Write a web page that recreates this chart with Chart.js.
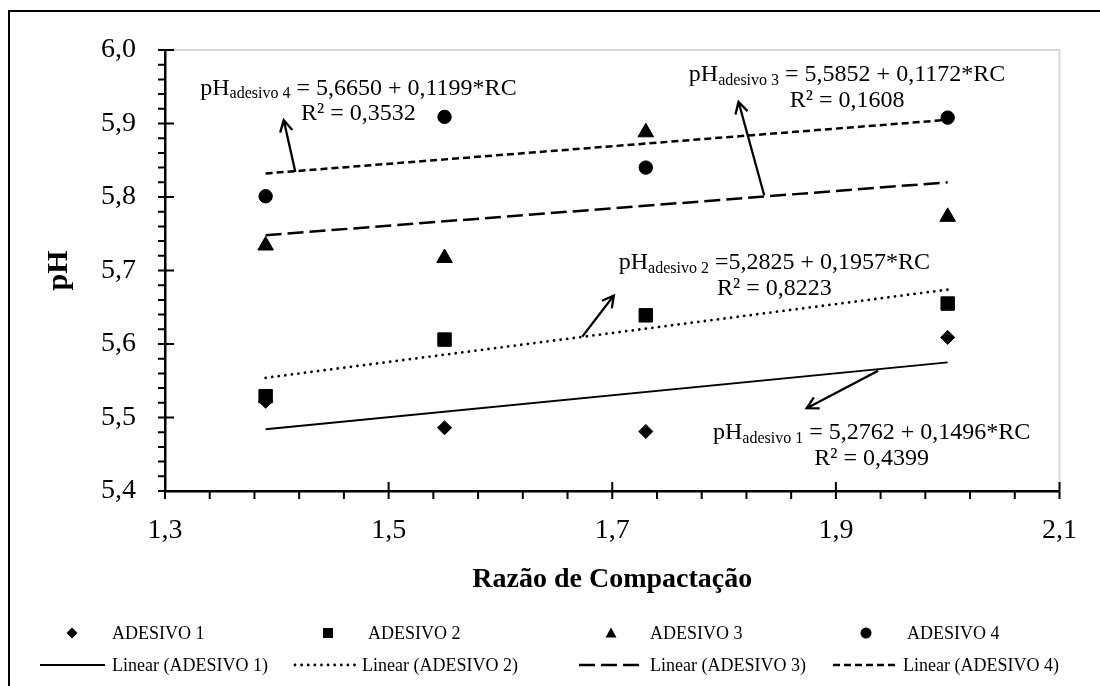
<!DOCTYPE html>
<html>
<head>
<meta charset="utf-8">
<script src="https://cdn.jsdelivr.net/npm/chart.js@4.4.0/dist/chart.umd.min.js"></script>
<style>
html, body { margin:0; padding:0; background:#fff; }
#wrap { width:1100px; height:686px; position:relative; }
</style>
</head>
<body>
<div id="wrap"><canvas id="stage" width="1100" height="686"></canvas></div>
<script>
// <pH x Razão de Compactação>

// razão de compactação (eixo x)
var rc = [1.39, 1.55, 1.73, 2.00];

// pH medido de cada adesivo
var adesivo1 = [5.522, 5.486, 5.481, 5.609];
var adesivo2 = [5.529, 5.606, 5.639, 5.655];
var adesivo3 = [5.734, 5.717, 5.888, 5.773];
var adesivo4 = [5.801, 5.909, 5.840, 5.908];

// linhas de tendência (extremos)
var rcLinha = [1.39, 2.00];
var linear1 = [5.484, 5.575];
var linear2 = [5.554, 5.674];
var linear3 = [5.748, 5.820];
var linear4 = [5.832, 5.905];

// rótulos dos eixos
var xTicks = [1.3, 1.5, 1.7, 1.9, 2.1];
var yTicks = [5.4, 5.5, 5.6, 5.7, 5.8, 5.9, 6.0];

var nomes = ["ADESIVO 1", "ADESIVO 2", "ADESIVO 3", "ADESIVO 4"];

function pares(xs, ys){
   var out = [];
   for (var i = 0; i < xs.length; i++){
      out.push({x: xs[i], y: ys[i]});
   }
   return out;
}

function virgula(v){
   return v.toFixed(1).replace('.', ',');
}

// equações e setas (posição em unidades do gráfico)
var notas = [
   {sub:"adesivo 4", eq:" = 5,6650 + 0,1199*RC", r2:"R² = 0,3532", cx:1.473, y1:5.948, y2:5.913, de:[1.4166, 5.834], ate:[1.4062, 5.9045]},
   {sub:"adesivo 3", eq:" = 5,5852 + 0,1172*RC", r2:"R² = 0,1608", cx:1.910, y1:5.966, y2:5.931, de:[1.8359, 5.8023], ate:[1.8129, 5.9295]},
   {sub:"adesivo 2", eq:" =5,2825 + 0,1957*RC", r2:"R² = 0,8223", cx:1.845, y1:5.711, y2:5.675, de:[1.6732, 5.610], ate:[1.7014, 5.6659]},
   {sub:"adesivo 1", eq:" = 5,2762 + 0,1496*RC", r2:"R² = 0,4399", cx:1.932, y1:5.4795, y2:5.4446, de:[1.9378, 5.5636], ate:[1.8739, 5.5127]}
];

var serif = "'Liberation Serif', 'Times New Roman', serif";

function seta(ctx, x1, y1, x2, y2){
   var ang = Math.atan2(y2 - y1, x2 - x1);
   var L = 13;
   ctx.beginPath();
   ctx.moveTo(x1, y1);
   ctx.lineTo(x2, y2);
   ctx.moveTo(x2 - L * Math.cos(ang - 0.5), y2 - L * Math.sin(ang - 0.5));
   ctx.lineTo(x2, y2);
   ctx.lineTo(x2 - L * Math.cos(ang + 0.5), y2 - L * Math.sin(ang + 0.5));
   ctx.stroke();
}

function marcador(ctx, tipo, x, y, r){
   ctx.beginPath();
   if (tipo === 'rectRot'){
      ctx.moveTo(x - r, y); ctx.lineTo(x, y - r); ctx.lineTo(x + r, y); ctx.lineTo(x, y + r);
   } else if (tipo === 'rect'){
      ctx.rect(x - r, y - r, 2 * r, 2 * r);
   } else if (tipo === 'triangle'){
      ctx.moveTo(x, y - r); ctx.lineTo(x + r, y + r * 0.8); ctx.lineTo(x - r, y + r * 0.8);
   } else {
      ctx.arc(x, y, r, 0, Math.PI * 2);
   }
   ctx.closePath();
   ctx.fill();
}

// moldura, marcas dos eixos, equações, legenda
var desenhos = {
   id: 'desenhos',
   beforeDraw: function(chart){
      var ctx = chart.ctx;
      var a = chart.chartArea;
      ctx.save();
      ctx.fillStyle = '#fff';
      ctx.fillRect(0, 0, chart.width, chart.height);
      ctx.strokeStyle = '#000';
      ctx.lineWidth = 2;
      ctx.beginPath();
      ctx.moveTo(9, chart.height);
      ctx.lineTo(9, 11);
      ctx.lineTo(chart.width, 11);
      ctx.stroke();
      ctx.strokeStyle = '#d9d9d9';
      ctx.beginPath();
      ctx.moveTo(a.left, a.top);
      ctx.lineTo(a.right, a.top);
      ctx.lineTo(a.right, a.bottom);
      ctx.stroke();
      ctx.restore();
   },
   afterDraw: function(chart){
      var ctx = chart.ctx;
      var a = chart.chartArea;
      var sx = chart.scales.x, sy = chart.scales.y;
      var i, j, p, v;
      ctx.save();
      ctx.strokeStyle = '#000';
      ctx.lineWidth = 2;
      ctx.beginPath();
      // eixo y
      for (i = 0; i < yTicks.length; i++){
         p = sy.getPixelForValue(yTicks[i]);
         ctx.moveTo(a.left - 7, p); ctx.lineTo(a.left + 9, p);
         if (i < yTicks.length - 1){
            for (j = 1; j < 5; j++){
               v = yTicks[i] + (yTicks[i + 1] - yTicks[i]) * j / 5;
               p = sy.getPixelForValue(v);
               ctx.moveTo(a.left - 7, p); ctx.lineTo(a.left, p);
            }
         }
      }
      // eixo x
      for (i = 0; i < xTicks.length; i++){
         p = sx.getPixelForValue(xTicks[i]);
         ctx.moveTo(p, a.bottom + 8); ctx.lineTo(p, a.bottom - (i === 0 ? 0 : 9));
         if (i < xTicks.length - 1){
            for (j = 1; j < 5; j++){
               v = xTicks[i] + (xTicks[i + 1] - xTicks[i]) * j / 5;
               p = sx.getPixelForValue(v);
               ctx.moveTo(p, a.bottom + 8); ctx.lineTo(p, a.bottom);
            }
         }
      }
      ctx.stroke();

      // equações
      ctx.fillStyle = '#000';
      ctx.textBaseline = 'middle';
      ctx.textAlign = 'left';
      ctx.lineWidth = 2.3;
      notas.forEach(function(n){
         var big = '24px ' + serif, small = '16px ' + serif;
         ctx.font = big;
         var w1 = ctx.measureText('pH').width;
         var w3 = ctx.measureText(n.eq).width;
         ctx.font = small;
         var w2 = ctx.measureText(n.sub).width;
         var cx = sx.getPixelForValue(n.cx);
         var y1 = sy.getPixelForValue(n.y1);
         var x0 = cx - (w1 + w2 + w3) / 2;
         ctx.font = big;
         ctx.fillText('pH', x0, y1);
         ctx.font = small;
         ctx.fillText(n.sub, x0 + w1, y1 + 6);
         ctx.font = big;
         ctx.fillText(n.eq, x0 + w1 + w2, y1);
         ctx.textAlign = 'center';
         ctx.fillText(n.r2, cx, sy.getPixelForValue(n.y2));
         ctx.textAlign = 'left';
         seta(ctx, sx.getPixelForValue(n.de[0]), sy.getPixelForValue(n.de[1]),
                   sx.getPixelForValue(n.ate[0]), sy.getPixelForValue(n.ate[1]));
      });

      // legenda
      var estilos = ['rectRot', 'rect', 'triangle', 'circle'];
      var tam = [5.5, 5, 5.5, 5.5];
      var colX = [72, 328, 611, 866];
      var txtX = [112, 368, 650, 907];
      var linX = [[40, 105], [295, 358], [579, 645], [833, 899]];
      var linTxt = [112, 362, 650, 903];
      var ds = chart.data.datasets;
      ctx.font = '18px ' + serif;
      for (i = 0; i < 4; i++){
         marcador(ctx, estilos[i], colX[i], 633, tam[i]);
         ctx.fillText(nomes[i], txtX[i], 634);
         var d = ds[4 + i];
         ctx.save();
         ctx.lineWidth = d.borderWidth;
         ctx.setLineDash(d.borderDash || []);
         ctx.lineCap = d.borderCapStyle || 'butt';
         ctx.beginPath();
         ctx.moveTo(linX[i][0], 665);
         ctx.lineTo(linX[i][1], 665);
         ctx.stroke();
         ctx.restore();
         ctx.fillText('Linear (' + nomes[i] + ')', linTxt[i], 666);
      }
      ctx.restore();
   }
};

var pontos = {
   borderColor: '#000', backgroundColor: '#000', showLine: false, borderWidth: 1
};

var mydata = {
   datasets: [
      Object.assign({label: nomes[0], data: pares(rc, adesivo1), pointStyle: 'rectRot', pointRadius: 7}, pontos),
      Object.assign({label: nomes[1], data: pares(rc, adesivo2), pointStyle: 'rect', pointRadius: 9.5}, pontos),
      Object.assign({label: nomes[2], data: pares(rc, adesivo3), pointStyle: 'triangle', pointRadius: 9}, pontos),
      Object.assign({label: nomes[3], data: pares(rc, adesivo4), pointStyle: 'circle', pointRadius: 6.7}, pontos),
      {label: 'Linear (ADESIVO 1)', data: pares(rcLinha, linear1), showLine: true, pointRadius: 0,
         borderColor: '#000', borderWidth: 1.8, borderDash: []},
      {label: 'Linear (ADESIVO 2)', data: pares(rcLinha, linear2), showLine: true, pointRadius: 0,
         borderColor: '#000', borderWidth: 2.8, borderDash: [0.01, 6.6], borderCapStyle: 'round'},
      {label: 'Linear (ADESIVO 3)', data: pares(rcLinha, linear3), showLine: true, pointRadius: 0,
         borderColor: '#000', borderWidth: 2.5, borderDash: [16, 6]},
      {label: 'Linear (ADESIVO 4)', data: pares(rcLinha, linear4), showLine: true, pointRadius: 0,
         borderColor: '#000', borderWidth: 2.5, borderDash: [7, 4]}
   ]
};

var options = {
   responsive: false,
   animation: false,
   layout: { padding: {left: 0, top: 50, right: 38, bottom: 85} },
   plugins: { legend: {display: false}, tooltip: {enabled: false} },
   scales: {
      x: {
         type: 'linear', min: 1.3, max: 2.1,
         afterBuildTicks: function(s){ s.ticks = xTicks.map(function(v){ return {value: v}; }); },
         afterFit: function(s){ s.height = 110; },
         grid: {display: false, drawTicks: false},
         border: {display: true, color: '#000', width: 2.5},
         ticks: {color: '#000', padding: 23, maxRotation: 0, font: {family: serif, size: 28},
            callback: function(v){ return virgula(v); }},
         title: {display: true, text: 'Razão de Compactação', color: '#000',
            font: {family: serif, size: 28, weight: 'bold'}, padding: {top: 0, bottom: 4}}
      },
      y: {
         type: 'linear', min: 5.4, max: 6.0,
         afterBuildTicks: function(s){ s.ticks = yTicks.map(function(v){ return {value: v}; }); },
         afterFit: function(s){ s.width = 165; },
         grid: {display: false, drawTicks: false},
         border: {display: true, color: '#000', width: 2.5},
         ticks: {color: '#000', padding: 29, font: {family: serif, size: 28},
            callback: function(v){ return virgula(v); }},
         title: {display: true, text: 'pH', color: '#000',
            font: {family: serif, size: 30, weight: 'bold'}, padding: {top: 41, bottom: 0}}
      }
   }
};

var canvas = document.getElementById('stage');
var chart = new Chart(canvas, {
   type: 'scatter',
   data: mydata,
   options: options,
   plugins: [desenhos]
});
</script>
</body>
</html>
